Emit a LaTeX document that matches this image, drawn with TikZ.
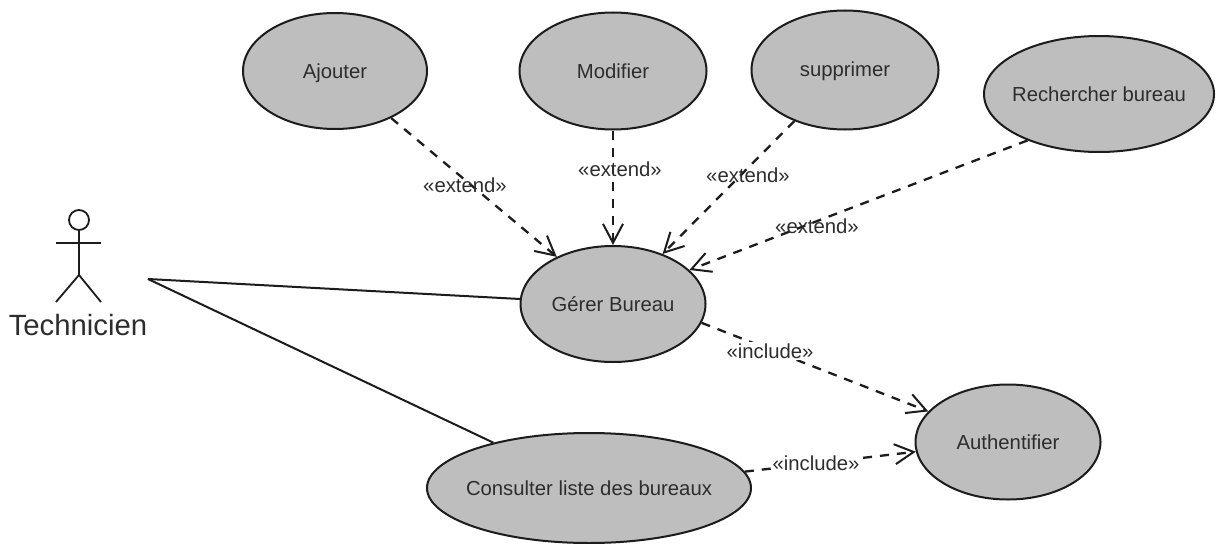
\documentclass[tikz,border=0pt]{standalone}
\usepackage{fontspec}
\setmainfont{Liberation Sans}
\usetikzlibrary{shapes.geometric,arrows.meta}
\definecolor{ucfill}{RGB}{190,190,190}
\definecolor{ink}{RGB}{28,28,28}
\definecolor{labelink}{RGB}{45,45,45}
\newcommand{\uctext}[1]{\makebox[0pt]{#1}}
\tikzset{
  usecase/.style={ellipse,draw=ink,line width=2pt,fill=ucfill,inner sep=0pt,text=labelink,text height=16pt,text depth=2pt,font=\fontsize{20.3}{24}\selectfont},
  dep/.style={draw=ink,line width=2.3pt,dash pattern=on 9pt off 8pt,-{Straight Barb[length=19pt,width=20pt,line width=2pt]}},
  assoc/.style={draw=ink,line width=2pt},
  stereo/.style={inner sep=0pt,text=labelink,font=\fontsize{20.3}{24}\selectfont},
  stereofilled/.style={stereo,fill=white,inner xsep=1pt,inner ysep=2pt},
  actorline/.style={draw=ink,line width=1.8pt}
}
\begin{document}
\begin{tikzpicture}[x=1pt,y=-1pt]
\useasboundingbox (0,0) rectangle (1217,543);
\node[usecase,minimum width=184pt,minimum height=116pt] (aj) at (335,71) {\uctext{Ajouter}};
\node[usecase,minimum width=187pt,minimum height=117pt] (mo) at (613,71) {\uctext{Modifier}};
\node[usecase,minimum width=187pt,minimum height=119pt] (su) at (845,70) {\uctext{supprimer}};
\node[usecase,minimum width=230pt,minimum height=116pt] (re) at (1099,94) {\uctext{Rechercher bureau}};
\node[usecase,minimum width=185pt,minimum height=116pt] (ge) at (613,304) {\uctext{Gérer Bureau}};
\node[usecase,minimum width=185pt,minimum height=115pt] (au) at (1008,442) {\uctext{Authentifier}};
\node[usecase,minimum width=324pt,minimum height=110pt] (co) at (589,488) {\uctext{Consulter liste des bureaux}};
% actor
\node[circle,actorline,minimum size=20pt,inner sep=0pt] (head) at (79,220) {};
\coordinate (hip) at (79,275);
\coordinate (armL) at (56,243);
\coordinate (armR) at (101,243);
\coordinate (legL) at (56,302);
\coordinate (legR) at (101,302);
\draw[actorline] (head.south) -- (hip);
\draw[actorline] (armL) -- (armR);
\draw[actorline] (legL) -- (hip) -- (legR);
\node[inner sep=0pt,text=labelink,font=\fontsize{29.3}{34}\selectfont] (tech) at (78,325) {Technicien};
\coordinate (actorend) at (148,279);
\draw[assoc] (actorend) -- (ge);
\draw[assoc] (actorend) -- (co);
% dependencies
\draw[dep] (aj) -- (ge);
\draw[dep] (mo) -- (ge);
\draw[dep] (su) -- (ge);
\draw[dep] (re.213.7) -- (ge.24.5);
\draw[dep] (ge.-12.9) -- (au.159.5);
\draw[dep] (co.6.2) -- (au.186.2);
% labels
\node[stereo] (l1) at (465,185) {«extend»};
\node[stereo] (l2) at (620,169) {«extend»};
\node[stereo] (l3) at (748,175) {«extend»};
\node[stereo] (l4) at (817,226) {«extend»};
\node[stereofilled] (l5) at (770,351) {«include»};
\node[stereofilled] (l6) at (816,463) {«include»};
\end{tikzpicture}
\end{document}
